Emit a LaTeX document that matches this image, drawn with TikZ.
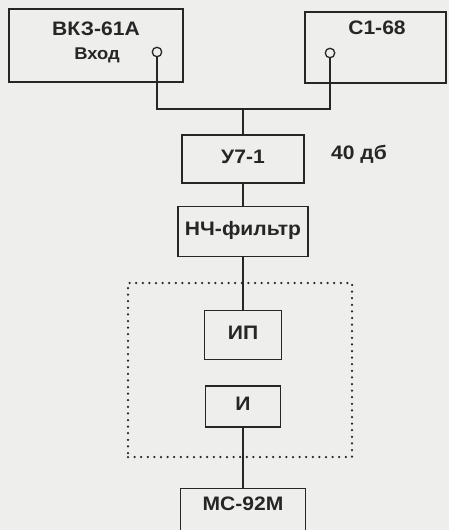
\documentclass[tikz,border=0pt]{standalone}
\usepackage{fontspec}
\setmainfont{Liberation Sans}[FakeStretch=1.08]
\usetikzlibrary{positioning}
\definecolor{paper}{HTML}{EEEEEC}
\definecolor{ink}{HTML}{262626}

\begin{document}
\begin{tikzpicture}[
  x=1pt, y=-1pt,
  node distance=22pt,
  box/.style={draw=ink, line width=1.3pt, inner sep=0pt, minimum height=48pt, text=ink, text height=14pt, text depth=6pt, font=\fontsize{19.5}{22}\selectfont\bfseries},
  lbl/.style={inner sep=0pt, text=ink, anchor=base, font=\fontsize{19.5}{22}\selectfont\bfseries},
  small/.style={font=\fontsize{17}{20}\selectfont\bfseries},
  term/.style={circle, draw=ink, line width=1.3pt, inner sep=0pt, minimum size=9.5pt},
  frame/.style={draw=ink, line width=2.5pt, dash pattern=on 0pt off 6.6pt, line cap=round, minimum width=224pt, minimum height=174pt},
  wire/.style={draw=ink, line width=1.3pt},
]
\fill[paper] (0,0) rectangle (449,530);
\useasboundingbox (0,0) rectangle (449,530);

% sources
\node[box, minimum width=174pt, minimum height=73pt] (vk) at (96,45.5) {};
\node[lbl] (vkname) at (96,35) {ВКЗ-61А};
\node[lbl, small] (vkin) at (97,59) {Вход};
\node[term] (vkout) at (157,52) {};

\node[box, minimum width=141pt, minimum height=71pt] (c1) at (375.5,47.5) {};
\node[lbl] (c1name) at (377,34) {С1-68};
\node[term] (c1out) at (330,53) {};

\coordinate (join) at (243,109);

% chain
\node[box, minimum width=122pt] (u7) at (243,159) {У7-1};
\node[lbl, anchor=base west] (gain) at (331,159.5) {40 дб};
\node[box, minimum width=130pt, minimum height=50pt, below=22pt of u7] (lpf) {НЧ-фильтр};
\node[frame] (unit) at (240,370) {};
\node[box, minimum width=77pt, minimum height=49pt, below=53pt of lpf] (ip) {ИП};
\node[box, minimum width=75pt, minimum height=41pt, below=25pt of ip] (ind) {И};
\node[box, minimum width=125pt, minimum height=70pt, below=60pt of ind] (ms) {};
\node[lbl, anchor=north, below=9pt of ms.north] (msname) {МС-92М};

\draw[wire] (vkout) -- (vkout |- join) -- (c1out |- join) -- (c1out);
\draw[wire] (join) -- (u7);
\draw[wire] (u7) -- (lpf);
\draw[wire] (lpf) -- (ip);
\draw[wire] (ind) -- (ms);

\end{tikzpicture}
\end{document}
